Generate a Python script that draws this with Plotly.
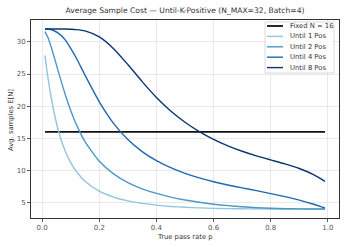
import plotly.graph_objects as go

# True pass rate grid
p_values = [0.01, 0.02, 0.04, 0.06, 0.08, 0.10, 0.12, 0.15, 0.20, 0.25, 0.30, 0.35,
            0.40, 0.45, 0.50, 0.55, 0.60, 0.65, 0.70, 0.75, 0.80, 0.85, 0.90, 0.95, 0.99]

fixed_n = [16] * len(p_values)

until_1 = [27.9, 24.5, 19.4, 15.7, 13.1, 11.2, 9.83, 8.32, 6.77, 5.85, 5.26, 4.87,
           4.60, 4.40, 4.27, 4.17, 4.10, 4.06, 4.03, 4.02, 4.01, 4.00, 4.00, 4.00, 4.00]

until_2 = [31.6, 30.7, 27.96, 24.87, 21.94, 19.34, 17.12, 14.48, 11.42, 9.46, 8.11, 7.14,
           6.42, 5.85, 5.40, 5.04, 4.75, 4.52, 4.34, 4.20, 4.11, 4.05, 4.02, 4.00, 4.00]

until_4 = [32.0, 32.0, 31.77, 31.24, 30.34, 28.99, 27.45, 24.82, 20.68, 17.33, 14.80, 12.93,
           11.52, 10.42, 9.54, 8.83, 8.24, 7.73, 7.28, 6.85, 6.40, 5.92, 5.38, 4.74, 4.16]

until_8 = [32.0, 32.0, 32.0, 32.0, 32.0, 31.97, 31.91, 31.70, 30.76, 28.94, 26.47, 23.82,
           21.36, 19.25, 17.50, 16.05, 14.84, 13.83, 12.98, 12.26, 11.63, 11.01, 10.30, 9.35, 8.31]

x_ticks = [0.0, 0.2, 0.4, 0.6, 0.8, 1.0]
x_tick_labels = ["0.0", "0.2", "0.4", "0.6", "0.8", "1.0"]
y_ticks = [5, 10, 15, 20, 25, 30]
y_tick_labels = ["5", "10", "15", "20", "25", "30"]

series_names = ["Fixed N = 16", "Until 1 Pos", "Until 2 Pos", "Until 4 Pos", "Until 8 Pos"]
series_values = [fixed_n, until_1, until_2, until_4, until_8]
series_colors = ["#111111", "#94c4df", "#4a98c9", "#1f68b0", "#0a3570"]
series_widths = [1.8, 1.4, 1.4, 1.4, 1.4]

W, H = 346, 247
ML, MR, MT, MB = 31, 7, 20, 29
PW, PH = W - ML - MR, H - MT - MB


def px(x):
    return (x - ML) / PW


def py(y):
    return (H - MB - y) / PH


fig = go.Figure()
for name, ys, color, w in zip(series_names, series_values, series_colors, series_widths):
    fig.add_trace(go.Scatter(
        x=p_values, y=ys, mode="lines", name=name, showlegend=False, hoverinfo="skip",
        line=dict(color=color, width=w, shape="spline", smoothing=0.6),
    ))

# manual compact legend (matplotlib-like)
shapes = []
annotations = []
shapes.append(dict(type="rect", xref="paper", yref="paper",
                   x0=px(265), x1=px(334), y0=py(73), y1=py(22),
                   line=dict(color="#d0d0d0", width=0.8), fillcolor="rgba(255,255,255,0.85)",
                   layer="above"))
legend_rows = [26, 36.4, 46.8, 57.2, 67.6]
for (name, color, w), yy in zip(zip(series_names, series_colors, series_widths), legend_rows):
    shapes.append(dict(type="line", xref="paper", yref="paper",
                       x0=px(267), x1=px(283), y0=py(yy), y1=py(yy),
                       line=dict(color=color, width=w), layer="above"))
    annotations.append(dict(text=name, xref="paper", yref="paper", x=px(288), y=py(yy),
                            xanchor="left", yanchor="middle", showarrow=False,
                            font=dict(size=6.8, color="#333333")))

# axis titles
annotations.append(dict(text="True pass rate p", xref="paper", yref="paper",
                        x=px(185), y=py(236.5), xanchor="center", yanchor="middle",
                        showarrow=False, font=dict(size=6.8, color="#333333")))
annotations.append(dict(text="Avg. samples E[N]", xref="paper", yref="paper",
                        x=px(11), y=py(120), xanchor="center", yanchor="middle",
                        textangle=-90, showarrow=False, font=dict(size=6.8, color="#333333")))

font_family = "DejaVu Sans"
fig.update_layout(
    width=W, height=H, autosize=False,
    margin=dict(l=ML, r=MR, t=MT, b=MB, pad=0),
    paper_bgcolor="white", plot_bgcolor="white",
    font=dict(family=font_family, size=7, color="#333333"),
    title=dict(text="Average Sample Cost — Until-K-Positive (N_MAX=32, Batch=4)",
               x=px(185), xanchor="center", xref="paper", y=1 - 10.5 / H, yanchor="middle",
               font=dict(size=7.6, color="#333333")),
    shapes=shapes, annotations=annotations,
    showlegend=False, hovermode=False,
)
fig.update_xaxes(
    range=[-0.039, 1.039], tickvals=x_ticks, ticktext=x_tick_labels, automargin=False,
    showgrid=True, gridcolor="#e3e3e3", gridwidth=0.8, zeroline=False,
    showline=True, linecolor="#333333", linewidth=1, mirror=True,
    ticks="outside", ticklen=3, tickcolor="#333333", tickwidth=0.8,
    tickfont=dict(size=7, color="#555555"),
)
fig.update_yaxes(
    range=[2.6, 33.4], tickvals=y_ticks, ticktext=y_tick_labels, automargin=False,
    showgrid=True, gridcolor="#e3e3e3", gridwidth=0.8, zeroline=False,
    showline=True, linecolor="#333333", linewidth=1, mirror=True,
    ticks="outside", ticklen=3, tickcolor="#333333", tickwidth=0.8,
    tickfont=dict(size=7, color="#555555"),
)

fig.write_html("out.html", config={"displayModeBar": False, "staticPlot": True},
               post_script="document.body.style.margin='0px';")
